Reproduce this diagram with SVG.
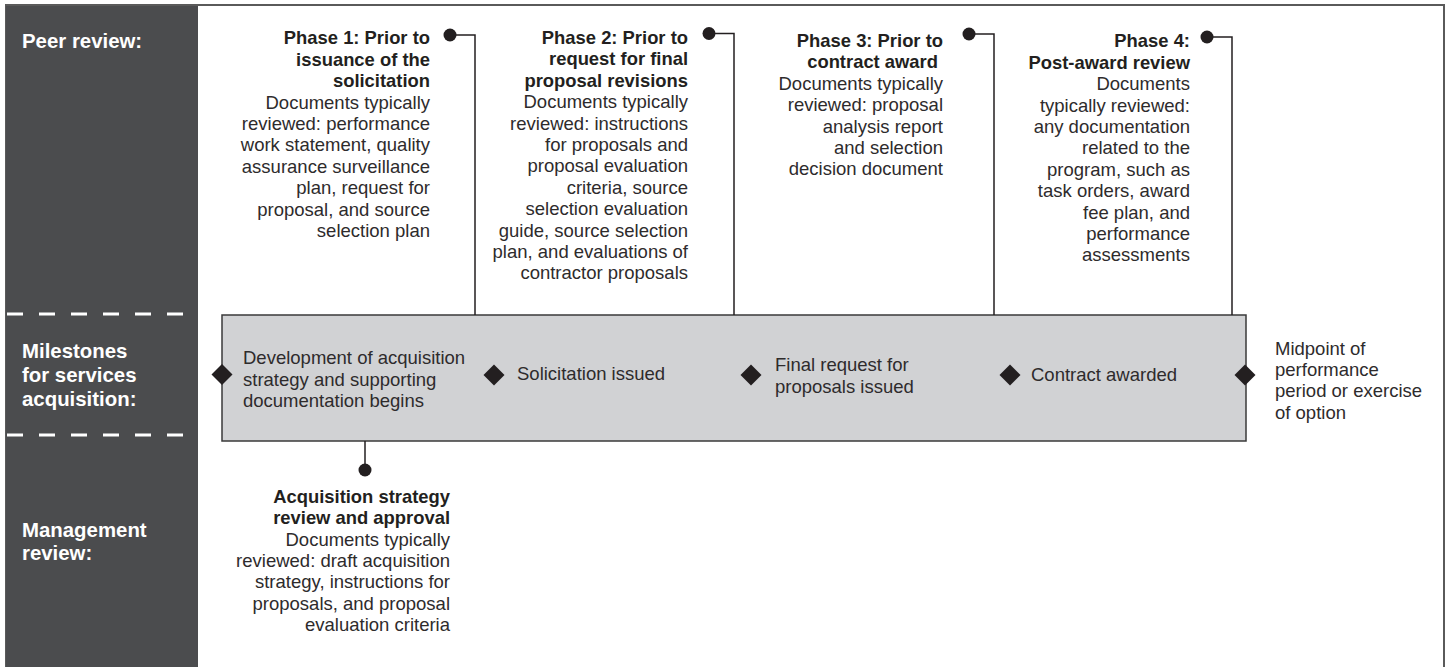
<svg xmlns="http://www.w3.org/2000/svg" width="1449" height="667" viewBox="0 0 1449 667">
<style>
.side{font-family:"Liberation Sans",Arial,sans-serif;font-weight:bold;font-size:20.4px;fill:#ffffff}
.h{font-family:"Liberation Sans",Arial,sans-serif;font-weight:bold;font-size:18.4px;fill:#231f20}
.b{font-family:"Liberation Sans",Arial,sans-serif;font-size:18.5px;fill:#2e2b2c}
.ln{fill:none;stroke:#231f20;stroke-width:1.5}
.dot{fill:#231f20}
.dia{fill:#231f20}
.dash{stroke:#ffffff;stroke-width:3;stroke-dasharray:16 16}
</style>
<rect x="0" y="0" width="1449" height="667" fill="#ffffff"/>
<rect id="frame" x="6" y="5" width="1438" height="680" fill="none" stroke="#5a5a5a" stroke-width="2"/>
<g id="sidebar">
<rect x="6" y="6" width="192" height="661" fill="#4b4c4e"/>
<line class="dash" x1="7" y1="314" x2="198" y2="314"/>
<line class="dash" x1="7" y1="435" x2="198" y2="435"/>
<text class="side" x="22" y="47.5">Peer review:</text>
<text class="side" x="22" y="358"><tspan x="22">Milestones</tspan><tspan x="22" y="382">for services</tspan><tspan x="22" y="406">acquisition:</tspan></text>
<text class="side" x="22" y="537"><tspan x="22">Management</tspan><tspan x="22" y="560">review:</tspan></text>
</g>
<g id="milestone-bar">
<rect x="222" y="315" width="1024" height="126" fill="#d1d2d4" stroke="#3a3a3a" stroke-width="1.5"/>
</g>
<g id="connectors">
<polyline class="ln" points="450,35 475,35 475,315"/>
<circle class="dot" cx="450" cy="35" r="6.5"/>
<polyline class="ln" points="709,33.5 734,33.5 734,315"/>
<circle class="dot" cx="709" cy="33.5" r="6.5"/>
<polyline class="ln" points="969,34 994,34 994,315"/>
<circle class="dot" cx="969" cy="34" r="6.5"/>
<polyline class="ln" points="1207,37 1232,37 1232,315"/>
<circle class="dot" cx="1207" cy="37" r="6.5"/>
<line class="ln" x1="365" y1="441" x2="365" y2="470"/>
<circle class="dot" cx="365" cy="470" r="6.5"/>
</g>
<g id="phase1">
<text class="h" text-anchor="end"><tspan x="430" y="44.3">Phase 1: Prior to</tspan><tspan x="430" y="65.7">issuance of the</tspan><tspan x="430" y="87.1">solicitation</tspan></text>
<text class="b" text-anchor="end"><tspan x="430" y="108.5">Documents typically</tspan><tspan x="430" y="129.9">reviewed: performance</tspan><tspan x="430" y="151.3">work statement, quality</tspan><tspan x="430" y="172.7">assurance surveillance</tspan><tspan x="430" y="194.1">plan, request for</tspan><tspan x="430" y="215.5">proposal, and source</tspan><tspan x="430" y="236.9">selection plan</tspan></text>
</g>
<g id="phase2">
<text class="h" text-anchor="end"><tspan x="688" y="44">Phase 2: Prior to</tspan><tspan x="688" y="65.4">request for final</tspan><tspan x="688" y="86.8">proposal revisions</tspan></text>
<text class="b" text-anchor="end"><tspan x="688" y="108.2">Documents typically</tspan><tspan x="688" y="129.6">reviewed: instructions</tspan><tspan x="688" y="151">for proposals and</tspan><tspan x="688" y="172.4">proposal evaluation</tspan><tspan x="688" y="193.8">criteria, source</tspan><tspan x="688" y="215.2">selection evaluation</tspan><tspan x="688" y="236.6">guide, source selection</tspan><tspan x="688" y="258">plan, and evaluations of</tspan><tspan x="688" y="279.4">contractor proposals</tspan></text>
</g>
<g id="phase3">
<text class="h" text-anchor="end"><tspan x="943" y="47">Phase 3: Prior to</tspan><tspan x="938" y="68.4">contract award</tspan></text>
<text class="b" text-anchor="end"><tspan x="943" y="89.8">Documents typically</tspan><tspan x="943" y="111.2">reviewed: proposal</tspan><tspan x="943" y="132.6">analysis report</tspan><tspan x="943" y="154">and selection</tspan><tspan x="943" y="175.4">decision document</tspan></text>
</g>
<g id="phase4">
<text class="h" text-anchor="end"><tspan x="1190" y="47.3">Phase 4:</tspan><tspan x="1190" y="68.7">Post-award review</tspan></text>
<text class="b" text-anchor="end"><tspan x="1190" y="90.1">Documents</tspan><tspan x="1190" y="111.5">typically reviewed:</tspan><tspan x="1190" y="132.9">any documentation</tspan><tspan x="1190" y="154.3">related to the</tspan><tspan x="1190" y="175.7">program, such as</tspan><tspan x="1190" y="197.1">task orders, award</tspan><tspan x="1190" y="218.5">fee plan, and</tspan><tspan x="1190" y="239.9">performance</tspan><tspan x="1190" y="261.3">assessments</tspan></text>
</g>
<g id="m1">
<polygon class="dia" points="222,364 232.5,374.5 222,385 211.5,374.5"/>
<text class="b"><tspan x="243" y="364">Development of acquisition</tspan><tspan x="243" y="385.5">strategy and supporting</tspan><tspan x="243" y="407">documentation begins</tspan></text>
</g>
<g id="m2">
<polygon class="dia" points="494,364.5 504.5,375 494,385.5 483.5,375"/>
<text class="b" x="517" y="380">Solicitation issued</text>
</g>
<g id="m3">
<polygon class="dia" points="751,364.5 761.5,375 751,385.5 740.5,375"/>
<text class="b"><tspan x="775" y="371">Final request for</tspan><tspan x="775" y="392.5">proposals issued</tspan></text>
</g>
<g id="m4">
<polygon class="dia" points="1010,364.5 1020.5,375 1010,385.5 999.5,375"/>
<text class="b" x="1031" y="380.5">Contract awarded</text>
</g>
<g id="m5">
<polygon class="dia" points="1245,364.5 1255.5,375 1245,385.5 1234.5,375"/>
<text class="b"><tspan x="1275" y="354.5">Midpoint of</tspan><tspan x="1275" y="375.9">performance</tspan><tspan x="1275" y="397.3">period or exercise</tspan><tspan x="1275" y="418.7">of option</tspan></text>
</g>
<g id="mgmt">
<text class="h" text-anchor="end"><tspan x="450" y="503">Acquisition strategy</tspan><tspan x="450" y="524.3">review and approval</tspan></text>
<text class="b" text-anchor="end"><tspan x="450" y="545.6">Documents typically</tspan><tspan x="450" y="566.9">reviewed: draft acquisition</tspan><tspan x="450" y="588.2">strategy, instructions for</tspan><tspan x="450" y="609.5">proposals, and proposal</tspan><tspan x="450" y="630.8">evaluation criteria</tspan></text>
</g>
</svg>
